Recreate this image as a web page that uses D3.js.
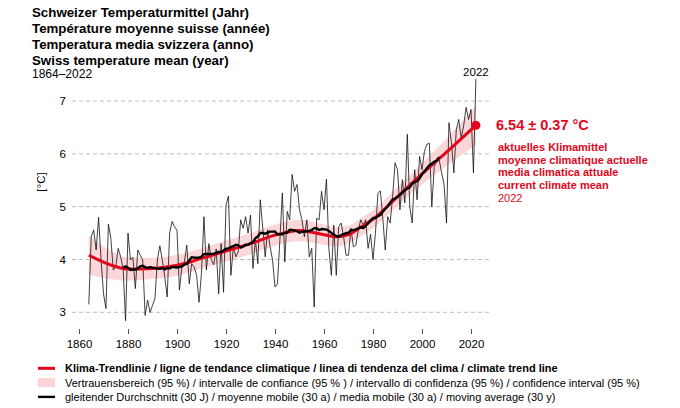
<!DOCTYPE html>
<html><head><meta charset="utf-8">
<script src="https://cdn.jsdelivr.net/npm/d3@7"></script>
<style>
html,body{margin:0;padding:0;background:#fff;}
svg{display:block;font-family:"Liberation Sans",Arial,sans-serif;}
</style></head>
<body><svg id="c" width="680" height="408"></svg>
<script>
// ---- data ----
const firstYear = 1864;
const annual1864_1900 = [3.15,4.43,4.56,4.18,4.80,3.99,3.35,3.07,4.67,4.40,3.80,3.86,4.21,4.05,3.83,2.84,4.50,3.99,4.04,3.45,4.18,4.08,3.99,2.94,3.23,3.00,3.13,3.26,3.99,4.26,3.99,3.67,3.29,4.50,4.72,4.62,4.55];
const annual1901_1938 = [3.42,3.86,3.95,4.27,3.54,3.92,3.86,3.70,3.19,3.75,4.81,3.80,4.30,4.00,3.90,4.20,3.35,4.30,3.38,5.03,5.20,3.70,4.24,4.05,4.15,4.75,4.59,4.81,4.50,4.84,3.83,4.37,3.92,5.13,4.59,4.05,4.56,4.24];
const annual1939_1983 = [3.99,3.48,3.54,4.37,5.26,3.95,4.91,4.75,5.61,5.29,5.42,4.94,4.75,4.43,4.75,4.05,4.21,3.10,4.78,4.75,5.29,4.94,5.52,4.20,3.70,4.65,3.70,4.62,4.69,4.43,4.08,4.08,4.59,4.24,4.27,4.56,4.75,4.65,4.75,4.21,4.48,4.00,4.50,5.25,5.30];
const annual1984_2022 = [4.78,4.18,4.81,4.69,5.19,5.83,5.70,4.94,5.51,5.07,6.37,5.00,4.69,5.70,5.13,5.95,5.70,6.05,6.18,6.20,5.00,5.76,5.86,5.89,5.64,5.42,4.69,6.59,6.21,5.64,6.46,6.65,6.30,6.53,6.88,6.65,6.84,5.64,7.42];

const trendYears = [1864,1870,1880,1890,1900,1910,1920,1930,1940,1950,1960,1965,1970,1975,1980,1990,2000,2010,2022];
const trendValues = [4.08,3.95,3.82,3.83,3.89,4.02,4.16,4.30,4.46,4.55,4.47,4.43,4.47,4.61,4.76,5.19,5.62,6.03,6.54];
const trendHalfWidth = [0.37,0.30,0.22,0.20,0.20,0.19,0.20,0.20,0.20,0.20,0.19,0.18,0.17,0.17,0.17,0.18,0.20,0.26,0.37];

const yTicks = [3,4,5,6,7];
const xTicks = [1860,1880,1900,1920,1940,1960,1980,2000,2020];
const movingWindow = 30;

const titleLines = ["Schweizer Temperaturmittel (Jahr)","Température moyenne suisse (année)","Temperatura media svizzera (anno)","Swiss temperature mean (year)"];
const periodLabel = "1864–2022";
const currentValueLabel = "6.54 ± 0.37 °C";
const currentLines = ["aktuelles Klimamittel","moyenne climatique actuelle","media climatica attuale","current climate mean"];
const currentYearLabel = "2022";
const legendItems = [
  {type:"trend", text:"Klima-Trendlinie / ligne de tendance climatique / linea di tendenza del clima / climate trend line", bold:true},
  {type:"band", text:"Vertrauensbereich (95 %) / intervalle de confiance (95 % ) / intervallo di confidenza (95 %) / confidence interval (95 %)", bold:false},
  {type:"ma", text:"gleitender Durchschnitt (30 J) / moyenne mobile (30 a) / media mobile (30 a) / moving average (30 y)", bold:false}
];

// ---- build ----
const annual = [].concat(annual1864_1900, annual1901_1938, annual1939_1983, annual1984_2022)
  .map((v,i)=>({year:firstYear+i, value:v}));
const lastYear = annual[annual.length-1].year;
const half = movingWindow/2;
const movingAvg = [];
for (let i=half-1; i+half < annual.length; i++) {
  movingAvg.push({year:annual[i].year, value:d3.mean(annual.slice(i-half+1, i+half+1), d=>d.value)});
}
const trend = trendYears.map((y,i)=>({year:y, value:trendValues[i], hw:trendHalfWidth[i]}));

const RED = "#e3051b";
const PINK = "#fcd3d6";

const svg = d3.select("#c");
const x = d3.scaleLinear().domain([1860,2020]).range([79,471]);
const y = d3.scaleLinear().domain([3,7]).range([312.3,101]);

// title
const tg = svg.append("g");
titleLines.forEach((t,i)=>{
  tg.append("text").attr("x",32).attr("y",17+i*16).attr("font-size",13.3).attr("font-weight","bold").attr("fill","#000").text(t);
});
tg.append("text").attr("x",32).attr("y",78).attr("font-size",12).attr("fill","#000").text(periodLabel);

// grid
svg.append("g").selectAll("line").data(yTicks).join("line")
  .attr("x1",72).attr("x2",490).attr("y1",d=>y(d)).attr("y2",d=>y(d))
  .attr("stroke","#b5b5b5").attr("stroke-width",0.9).attr("stroke-dasharray","4,3");

// y axis labels
const yAxis = d3.axisLeft(y).tickValues(yTicks).tickSize(0).tickPadding(0).tickFormat(d3.format("d"));
const yg = svg.append("g").attr("transform","translate(66,0)").call(yAxis);
yg.select(".domain").remove();
yg.selectAll("text").attr("font-size",11.5).attr("font-family","Liberation Sans, Arial, sans-serif").attr("fill","#000");

svg.append("text").attr("transform","translate(45,182) rotate(-90)").attr("text-anchor","middle")
  .attr("font-size",11.5).attr("fill","#000").text("[°C]");

// x axis
const xAxis = d3.axisBottom(x).tickValues(xTicks).tickSize(5).tickPadding(6).tickFormat(d3.format("d"));
const xg = svg.append("g").attr("transform","translate(0,329)").call(xAxis);
xg.select(".domain").remove();
xg.selectAll("line").attr("stroke","#555");
xg.selectAll("text").attr("font-size",11.5).attr("font-family","Liberation Sans, Arial, sans-serif").attr("fill","#000");

// band
const area = d3.area().x(d=>x(d.year)).y0(d=>y(d.value-d.hw)).y1(d=>y(d.value+d.hw)).curve(d3.curveMonotoneX);
svg.append("path").datum(trend).attr("d",area).attr("fill",PINK).attr("opacity",0.9);

// annual
const line = d3.line().x(d=>x(d.year)).y(d=>y(d.value));
svg.append("path").datum(annual).attr("d",line).attr("fill","none").attr("stroke","#111").attr("stroke-width",0.8);

// trend
const tline = d3.line().x(d=>x(d.year)).y(d=>y(d.value)).curve(d3.curveMonotoneX);
svg.append("path").datum(trend).attr("d",tline).attr("fill","none").attr("stroke",RED).attr("stroke-width",3);

// moving average
svg.append("path").datum(movingAvg).attr("d",line).attr("fill","none").attr("stroke","#000").attr("stroke-width",2.4).attr("stroke-linejoin","round");

// current dot
const lastT = trend[trend.length-1];
svg.append("circle").attr("cx",x(lastT.year)).attr("cy",y(lastT.value)).attr("r",4.5).attr("fill",RED);

// 2022 label on top
svg.append("text").attr("x",x(lastYear)).attr("y",76).attr("text-anchor","middle").attr("font-size",11.5).attr("fill","#000").text(String(lastYear));

// right annotation
svg.append("text").attr("x",496).attr("y",y(lastT.value)+5).attr("font-size",14.5).attr("font-weight","bold").attr("fill",RED).text(currentValueLabel);
currentLines.forEach((t,i)=>{
  svg.append("text").attr("x",498).attr("y",151+i*12.7).attr("font-size",11).attr("font-weight","bold").attr("fill",RED).text(t);
});
svg.append("text").attr("x",498).attr("y",151+4*12.7).attr("font-size",11).attr("fill",RED).text(currentYearLabel);

// legend
const lg = svg.append("g");
legendItems.forEach((it,i)=>{
  const cy = 368.3 + i*14.3;
  if (it.type==="trend") lg.append("line").attr("x1",38).attr("x2",55).attr("y1",cy).attr("y2",cy).attr("stroke",RED).attr("stroke-width",3);
  if (it.type==="band") lg.append("rect").attr("x",38).attr("y",cy-4.5).attr("width",17).attr("height",9).attr("fill",PINK);
  if (it.type==="ma") lg.append("line").attr("x1",38).attr("x2",55).attr("y1",cy).attr("y2",cy).attr("stroke","#000").attr("stroke-width",2.4);
  lg.append("text").attr("x",65).attr("y",cy+4).attr("font-size",11).attr("font-weight",it.bold?"bold":"normal").attr("fill","#000").text(it.text);
});
</script></body></html>
